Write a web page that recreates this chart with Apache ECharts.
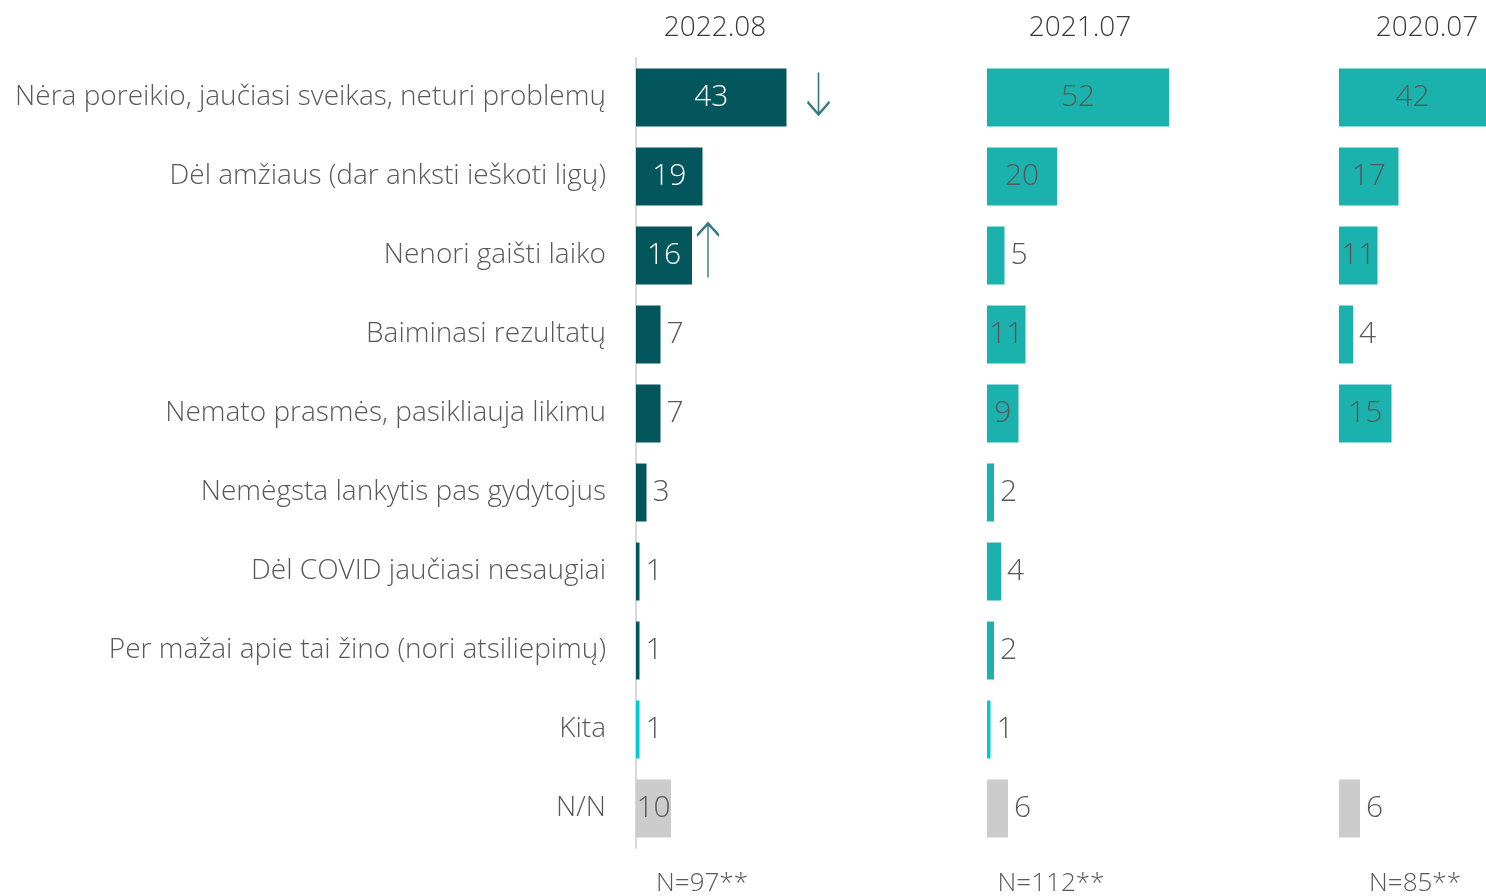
<!DOCTYPE html>
<html><head><meta charset="utf-8">
<script src="https://cdn.jsdelivr.net/npm/echarts@6/dist/echarts.min.js"></script>
<style>html,body{margin:0;padding:0;background:#fff}#c{width:1486px;height:896px}</style>
</head><body><div id="c"></div>
<script>
const categories = ["Nėra poreikio, jaučiasi sveikas, neturi problemų","Dėl amžiaus (dar anksti ieškoti ligų)","Nenori gaišti laiko","Baiminasi rezultatų","Nemato prasmės, pasikliauja likimu","Nemėgsta lankytis pas gydytojus","Dėl COVID jaučiasi nesaugiai","Per mažai apie tai žino (nori atsiliepimų)","Kita","N/N"];
const periods = ["2022.08","2021.07","2020.07"];
const sampleLabels = ["N=97**","N=112**","N=85**"];
const values2022 = [43,19,16,7,7,3,1,1,1,10];
const values2021 = [52,20,5,11,9,2,4,2,1,6];
const values2020 = [42,17,11,4,15,null,null,null,null,6];
const arrowsDown = [43,null,null,null,null,null,null,null,null,null];
const arrowsUp = [null,null,16,null,null,null,null,null,null,null];

const FONT = "Open Sans";
const TXT = "#595959";
const DARK = "#03575c", LIGHT = "#1bb1ad", CYAN = "#00c9d2", GRAY = "#cccccc";
const gridLefts = [636, 987, 1339];
const gridWidths = [350, 350, 147];
const PX = 3.5;

function buildData(vals, base, insideColor) {
  return vals.map((v, i) => {
    if (v == null) return null;
    const cat = categories[i];
    let color = base;
    if (cat === "Kita") color = CYAN;
    if (cat === "N/N") color = GRAY;
    const inside = v >= 9;
    return {
      value: v,
      itemStyle: { color },
      label: {
        show: true,
        position: inside ? "inside" : "right",
        distance: 6,
        color: inside ? (cat === "N/N" ? TXT : insideColor) : TXT
      }
    };
  });
}

const grids = gridLefts.map((l, i) => ({ left: l, width: gridWidths[i], top: 58, height: 790 }));
const xAxes = gridLefts.map((l, i) => ({ gridIndex: i, type: "value", min: 0, max: gridWidths[i] / PX, show: false }));
const yAxes = gridLefts.map((l, i) => ({
  gridIndex: i, type: "category", data: categories, inverse: true,
  axisLine: { show: i === 0, lineStyle: { color: "#d9d9d9", width: 2 } },
  axisTick: { show: false },
  axisLabel: { show: i === 0, margin: 30, fontFamily: FONT, fontWeight: 300, fontSize: 28, color: TXT }
}));

const labelBase = { fontFamily: FONT, fontWeight: 300, fontSize: 30 };
const series = [
  { type: "bar", xAxisIndex: 0, yAxisIndex: 0, barWidth: 58, data: buildData(values2022, DARK, "#ffffff"), label: labelBase },
  { type: "bar", xAxisIndex: 1, yAxisIndex: 1, barWidth: 58, data: buildData(values2021, LIGHT, TXT), label: labelBase },
  { type: "bar", xAxisIndex: 2, yAxisIndex: 2, barWidth: 58, data: buildData(values2020, LIGHT, TXT), label: labelBase },
  { type: "scatter", xAxisIndex: 0, yAxisIndex: 0, data: arrowsDown, symbol: "path://M10,0 L10,40 M0,28 L10,40 L20,28",
    symbolSize: [22, 42], symbolOffset: [32, -4], itemStyle: { color: "rgba(0,0,0,0)", borderColor: DARK, borderWidth: 2.2 }, silent: true, z: 5 },
  { type: "scatter", xAxisIndex: 0, yAxisIndex: 0, data: arrowsUp, symbol: "path://M10,54 L10,0 M0,12 L10,0 L20,12",
    symbolSize: [22, 54], symbolOffset: [16, -5], itemStyle: { color: "rgba(0,0,0,0)", borderColor: DARK, borderWidth: 2.2 }, silent: true, z: 5 }
];

const titleCenters = [710, 1075, 1422];
const nCenters = [697, 1046, 1410];
const titles = [];
periods.forEach((p, i) => titles.push({ text: p, left: titleCenters[i], top: 9, textAlign: "center",
  textStyle: { fontFamily: FONT, fontWeight: 300, fontSize: 28, color: "#3a3a3a" } }));
sampleLabels.forEach((s, i) => titles.push({ text: s, left: nCenters[i], top: 866, textAlign: "center",
  textStyle: { fontFamily: FONT, fontWeight: 300, fontSize: 26, color: TXT } }));

const chart = echarts.init(document.getElementById("c"), null, { renderer: "canvas" });
chart.setOption({ animation: false, backgroundColor: "#fff", title: titles, grid: grids, xAxis: xAxes, yAxis: yAxes, series });
</script></body></html>
